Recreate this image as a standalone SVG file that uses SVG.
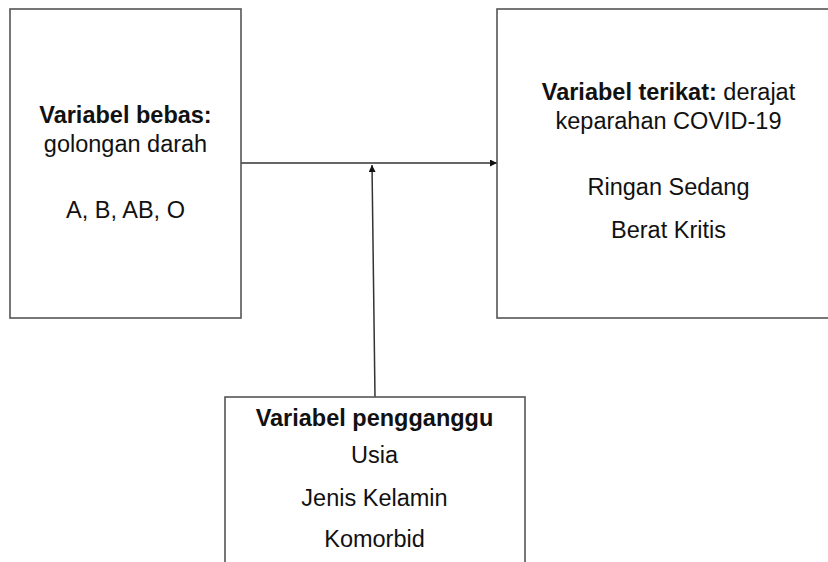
<svg xmlns="http://www.w3.org/2000/svg" width="828" height="562" viewBox="0 0 828 562">
<style>
.box{fill:#fff;stroke:#555;stroke-width:1.6}
.t{font-family:"Liberation Sans",Arial,sans-serif;font-size:23.5px;fill:#111;text-anchor:middle}
.b{font-weight:bold}
.ln{stroke:#333;stroke-width:1.5;fill:none}
</style>
<defs>
<marker id="ah" viewBox="0 0 10 10" refX="10" refY="5" markerWidth="7" markerHeight="7" markerUnits="userSpaceOnUse" orient="auto">
<path d="M0,0 L10,5 L0,10 z" fill="#111"/>
</marker>
</defs>
<rect width="828" height="562" fill="#fff"/>
<g id="connectors">
<line class="ln" x1="241" y1="163" x2="497" y2="163" marker-end="url(#ah)"/>
<line class="ln" x1="375" y1="397" x2="372" y2="165" marker-end="url(#ah)"/>
</g>
<g id="node-bebas">
<rect class="box" x="10" y="9" width="231" height="309"/>
<text class="t" x="125.5" y="123"><tspan class="b">Variabel bebas:</tspan></text>
<text class="t" x="125.5" y="152">golongan darah</text>
<text class="t" x="125.5" y="218">A, B, AB, O</text>
</g>
<g id="node-terikat">
<rect class="box" x="497" y="9" width="345" height="309"/>
<text class="t" x="668.5" y="100"><tspan class="b">Variabel terikat:</tspan> derajat</text>
<text class="t" x="668.5" y="129">keparahan COVID-19</text>
<text class="t" x="668.5" y="195">Ringan Sedang</text>
<text class="t" x="668.5" y="238">Berat Kritis</text>
</g>
<g id="node-pengganggu">
<rect class="box" x="225" y="397" width="300" height="180"/>
<text class="t b" x="374.5" y="426">Variabel pengganggu</text>
<text class="t" x="374.5" y="463">Usia</text>
<text class="t" x="374.5" y="506">Jenis Kelamin</text>
<text class="t" x="374.5" y="547">Komorbid</text>
</g>
</svg>
